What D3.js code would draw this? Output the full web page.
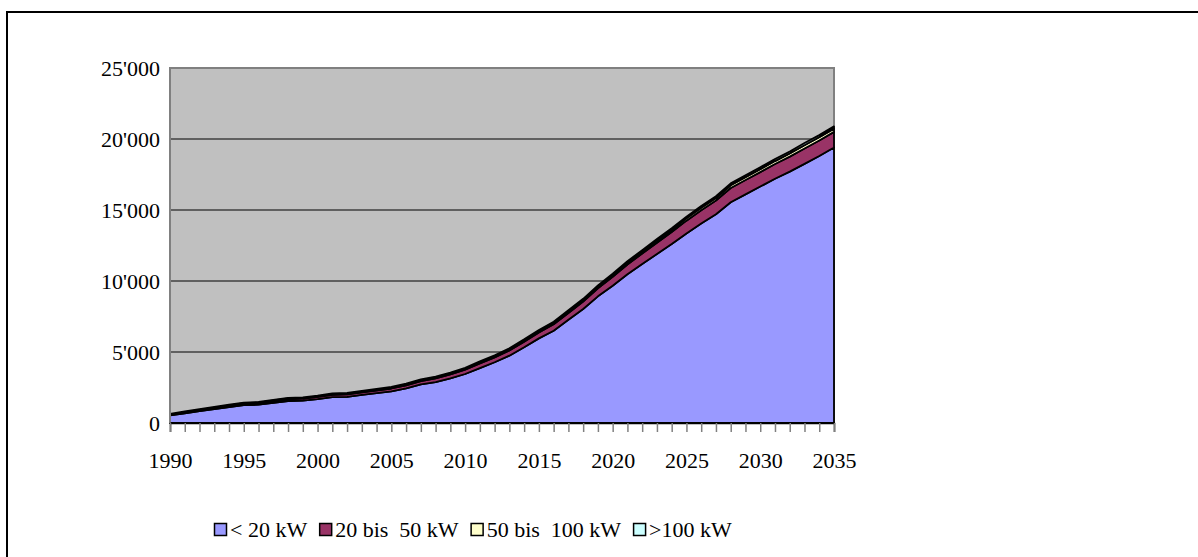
<!DOCTYPE html>
<html>
<head>
<meta charset="utf-8">
<script src="https://cdn.jsdelivr.net/npm/d3@7"></script>
<style>
  html, body { margin: 0; padding: 0; background: #ffffff; }
  svg { display: block; }
  svg text { font-family: "Liberation Serif", "Times New Roman", Times, "DejaVu Serif", serif !important; fill: #000; }
</style>
</head>
<body>
<svg id="chart" width="1198" height="557"></svg>
<script>
const years = [1990,1991,1992,1993,1994,1995,1996,1997,1998,1999,
               2000,2001,2002,2003,2004,2005,2006,2007,2008,2009,
               2010,2011,2012,2013,2014,2015,2016,2017,2018,2019,
               2020,2021,2022,2023,2024,2025,2026,2027,2028,2029,
               2030,2031,2032,2033,2034,2035];

const seriesNames = ["< 20 kW", "20 bis\u00a0 50 kW", "50 bis\u00a0 100 kW", ">100 kW"];
const seriesColors = ["#9999FF", "#993366", "#FFFFCC", "#CCFFFF"];

const under20 = [530,680,830,980,1120,1260,1290,1420,1550,1570,
                 1680,1820,1840,1980,2100,2230,2440,2720,2880,3140,
                 3450,3870,4280,4740,5330,5960,6500,7270,8030,8920,
                 9670,10480,11190,11900,12600,13350,14050,14700,15550,16100,
                 16650,17200,17700,18250,18800,19400];

const from20to50 = [40,55,70,85,95,110,120,130,140,150,
                    160,165,175,185,190,200,215,235,260,280,
                    300,320,340,365,395,420,450,480,520,560,
                    620,680,740,800,850,900,940,970,1000,1010,
                    1020,1040,1060,1080,1090,1100];

const from50to100 = [20,22,23,25,28,30,31,34,37,38,
                     40,43,44,46,49,50,55,57,63,66,
                     70,73,79,82,87,90,96,101,105,114,
                     120,127,137,143,153,160,170,175,195,200,
                     200,205,214,235,228,230];

const over100 = [60,55,51,46,43,40,42,45,46,48,
                 50,52,54,57,58,60,61,64,66,69,
                 70,72,74,76,78,80,83,86,90,95,
                 100,104,108,112,116,120,124,128,132,136,
                 140,144,148,152,156,160];

const yTicks = [0,5000,10000,15000,20000,25000];
const xLabelYears = [1990,1995,2000,2005,2010,2015,2020,2025,2030,2035];

const fmt = v => d3.format(",")(v).replace(/,/g, "'");
const FONT = "'Liberation Serif', 'Times New Roman', Times, 'DejaVu Serif', serif";

const svg = d3.select("#chart");

// Outer chart frame
svg.append("path")
  .attr("d", "M7,560 L7,12 L1200,12")
  .attr("fill", "none").attr("stroke", "#000").attr("stroke-width", 2);

const pLeft = 170, pRight = 834, pTop = 68, pBottom = 423;
const x = d3.scaleLinear().domain([1990, 2035]).range([pLeft, pRight]);
const y = d3.scaleLinear().domain([0, 25000]).range([pBottom, pTop]);

// Plot background
svg.append("rect")
  .attr("x", pLeft).attr("y", pTop)
  .attr("width", pRight - pLeft).attr("height", pBottom - pTop)
  .attr("fill", "#C0C0C0").attr("stroke", "#808080").attr("stroke-width", 2);

// Gridlines
svg.append("g").selectAll("line")
  .data(yTicks.filter(t => t > 0 && t < 25000))
  .join("line")
  .attr("x1", pLeft).attr("x2", pRight)
  .attr("y1", d => y(d)).attr("y2", d => y(d))
  .attr("stroke", "#000").attr("stroke-width", 1);

// Stacked data
const rows = years.map((yr, i) => ({
  year: yr, s0: under20[i], s1: from20to50[i], s2: from50to100[i], s3: over100[i]
}));
const stack = d3.stack().keys(["s0", "s1", "s2", "s3"]);
const layers = stack(rows);

const area = d3.area()
  .x(d => x(d.data.year))
  .y0(d => y(d[0]))
  .y1(d => y(d[1]));

svg.append("g").selectAll("path")
  .data(layers)
  .join("path")
  .attr("d", area)
  .attr("fill", (d, i) => seriesColors[i])
  .attr("stroke", "#000")
  .attr("stroke-width", 1.8)
  .attr("stroke-linejoin", "round");

// Left border redraw (gray) on top of areas
svg.append("line")
  .attr("x1", pLeft).attr("x2", pLeft).attr("y1", pTop).attr("y2", pBottom)
  .attr("stroke", "#808080").attr("stroke-width", 2);

// X axis
const xAxis = d3.axisBottom(x)
  .tickValues(years)
  .tickSize(9)
  .tickFormat(d => xLabelYears.includes(d) ? String(d) : "");
const gx = svg.append("g").attr("transform", `translate(0,${pBottom})`).call(xAxis);
gx.attr("font-family", FONT);
gx.select(".domain").attr("stroke", "#000").attr("stroke-width", 1.5);
gx.selectAll(".tick line").attr("stroke", "#808080").attr("stroke-width", 1.5);
gx.selectAll(".tick text")
  .attr("font-family", FONT)
  .attr("font-size", 22).attr("fill", "#000").attr("y", 29);

// Y axis
const yAxis = d3.axisLeft(y).tickValues(yTicks).tickSize(0).tickPadding(10).tickFormat(fmt);
const gy = svg.append("g").attr("transform", `translate(${pLeft},0)`).call(yAxis);
gy.attr("font-family", FONT);
gy.select(".domain").remove();
gy.selectAll(".tick text")
  .attr("font-family", FONT)
  .attr("font-size", 22).attr("fill", "#000");

// Legend
const legend = svg.append("g").attr("transform", "translate(214,530)");
let cx = 0;
seriesNames.forEach((name, i) => {
  const g = legend.append("g").attr("transform", `translate(${cx},0)`);
  g.append("rect").attr("x", 0.5).attr("y", -6.5).attr("width", 12).attr("height", 12)
    .attr("fill", seriesColors[i]).attr("stroke", "#000").attr("stroke-width", 1.5);
  const t = g.append("text").attr("x", 16).attr("y", 7)
    .attr("font-family", FONT)
    .attr("font-size", 22).style("white-space", "pre").text(name);
  const w = t.node().getComputedTextLength();
  cx += 16 + w + 12;
});
</script>
</body>
</html>
